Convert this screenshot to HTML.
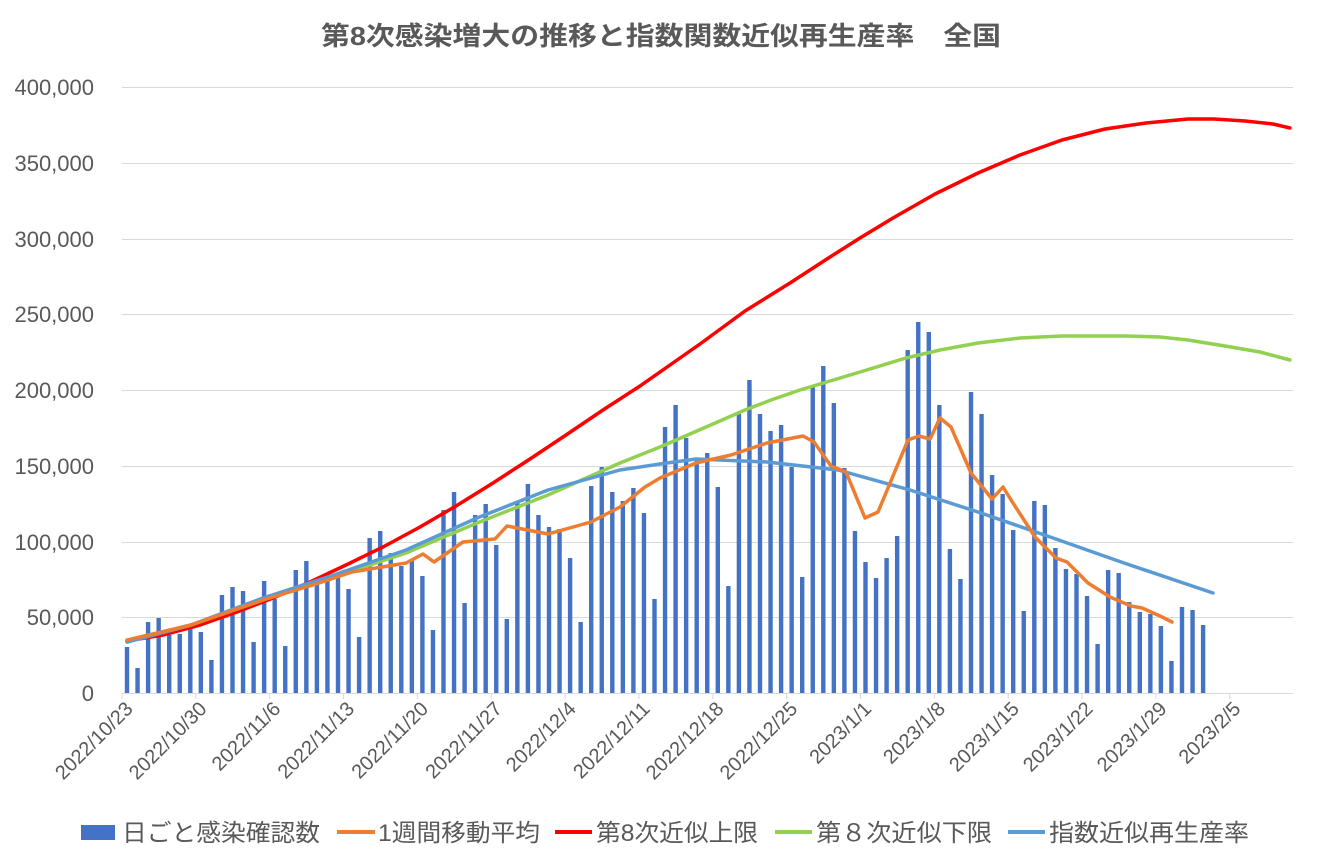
<!DOCTYPE html>
<html><head><meta charset="utf-8"><style>
body{margin:0;background:#fff}
svg text{font-family:"Liberation Sans","Noto Sans CJK JP",sans-serif;fill:#595959}
</style></head><body>
<svg id="s" width="1324" height="855" xmlns="http://www.w3.org/2000/svg">
<rect width="1324" height="855" fill="#fff"/>
<text x="661" y="45" text-anchor="middle" font-size="26" font-weight="bold" textLength="680" lengthAdjust="spacingAndGlyphs">第8次感染増大の推移と指数関数近似再生産率　全国</text>
<g stroke="#d9d9d9" stroke-width="1">
<line x1="122" x2="1293" y1="87.5" y2="87.5"/><line x1="122" x2="1293" y1="163.5" y2="163.5"/>
<line x1="122" x2="1293" y1="239.5" y2="239.5"/><line x1="122" x2="1293" y1="314.5" y2="314.5"/>
<line x1="122" x2="1293" y1="390.5" y2="390.5"/><line x1="122" x2="1293" y1="466.5" y2="466.5"/>
<line x1="122" x2="1293" y1="542.5" y2="542.5"/><line x1="122" x2="1293" y1="617.5" y2="617.5"/>
<line x1="122" x2="1293" y1="693.5" y2="693.5"/>
</g>
<g font-size="22" text-anchor="end">
<text x="94" y="95">400,000</text><text x="94" y="171">350,000</text><text x="94" y="247">300,000</text>
<text x="94" y="322">250,000</text><text x="94" y="398">200,000</text><text x="94" y="474">150,000</text>
<text x="94" y="550">100,000</text><text x="94" y="625">50,000</text><text x="94" y="701">0</text>
</g>
<g id="bars" fill="#4472c4"></g>
<g id="ticks" stroke="#d9d9d9"></g>
<g id="xl" font-size="20" text-anchor="end"></g>
<g fill="none" stroke-width="3.5" stroke-linejoin="round" stroke-linecap="round">
<polyline stroke="#f00" points="127,641 163,635 200,625 237,612 273,598 310,582 346,565 383,547 420,527 456,506 493,483 530,459 566,435 603,410 640,386 670,365 700,344 745,311 790,283 830,257 860,238 893,218 935,194 978,173 1020,155 1062,140 1105,129 1146,123 1188,119 1214,119 1245,121 1273,124 1290,128"/>
<polyline stroke="#92d050" points="127,642 191,625 263,600 334,577 406,553 477,523 548,495 620,463 660,447 713,424 745,410 771,400 800,390 830,381 870,369 906,358 940,350 978,343 1020,338 1062,336 1125,336 1160,337 1188,340 1231,347 1260,352 1290,360"/>
<polyline stroke="#5b9bd5" points="127,642 191,625 263,598 334,575 406,550 477,518 548,490 620,470 660,464 696,459 767,462 838,470 910,490 981,513 1053,538 1124,563 1213,593"/>
<polyline stroke="#ed7d31" points="127,640 191,625 263,600 316,584 352,572 406,563 423,554 434,562 463,542 495,539 507,526 548,534 591,522 620,507 645,487 660,478 696,463 731,455 767,443 803,436 814,442 831,466 846,472 865,518 878,512 888,488 908,440 919,436 930,439 940,418 951,427 971,473 992,499 1003,487 1013,503 1035,537 1056,558 1067,562 1088,583 1110,597 1131,606 1142,608 1160,616 1172,622"/>
</g>
<g font-size="24">
<rect x="81" y="825" width="34" height="15" fill="#4472c4"/><text x="122" y="841" textLength="198" lengthAdjust="spacingAndGlyphs">日ごと感染確認数</text>
<line x1="337" x2="375" y1="832" y2="832" stroke="#ed7d31" stroke-width="4"/><text x="378" y="841" textLength="162" lengthAdjust="spacingAndGlyphs">1週間移動平均</text>
<line x1="555" x2="592" y1="832" y2="832" stroke="#f00" stroke-width="4"/><text x="596" y="841" textLength="162" lengthAdjust="spacingAndGlyphs">第8次近似上限</text>
<line x1="775" x2="812" y1="832" y2="832" stroke="#92d050" stroke-width="4"/><text x="816" y="841" textLength="176" lengthAdjust="spacingAndGlyphs">第８次近似下限</text>
<line x1="1008" x2="1045" y1="832" y2="832" stroke="#5b9bd5" stroke-width="4"/><text x="1049" y="841" textLength="200" lengthAdjust="spacingAndGlyphs">指数近似再生産率</text>
</g>
</svg>
<script>
var tops=[647,668,622,618,635,634,628,632,660,595,587,591,642,581,599,646,570,561,581,573,573,589,637,538,531,553,566,561,576,630,510,492,603,515,504,545,619,501,484,515,527,529,558,622,486,467,492,501,488,513,599,
427,405,438,460,453,487,586,414,380,414,431,425,467,577,387,366,403,468,531,562,578,558,536,350,322,332,405,549,579,392,414,475,494,530,611,501,505,548,569,574,596,644,570,573,602,612,614,626,661,607,610,625];
var ns="http://www.w3.org/2000/svg",b=document.getElementById('bars');
tops.forEach(function(t,i){var r=document.createElementNS(ns,'rect');var x=127+10.55*i;
r.setAttribute('x',x-2.2);r.setAttribute('y',t);r.setAttribute('width',4.4);r.setAttribute('height',693-t);b.appendChild(r);});
var labs=["2022/10/23","2022/10/30","2022/11/6","2022/11/13","2022/11/20","2022/11/27","2022/12/4","2022/12/11","2022/12/18","2022/12/25","2023/1/1","2023/1/8","2023/1/15","2023/1/22","2023/1/29","2023/2/5"];
var tk=document.getElementById('ticks'),xl=document.getElementById('xl');
for(var k=0;k<16;k++){var x=122+73.85*k;var l=document.createElementNS(ns,'line');
l.setAttribute('x1',x);l.setAttribute('x2',x);l.setAttribute('y1',693);l.setAttribute('y2',699);tk.appendChild(l);
var t=document.createElementNS(ns,'text');t.setAttribute('transform','translate('+(x+12)+',710) rotate(-45)');t.textContent=labs[k];xl.appendChild(t);}
</script>
</body></html>
